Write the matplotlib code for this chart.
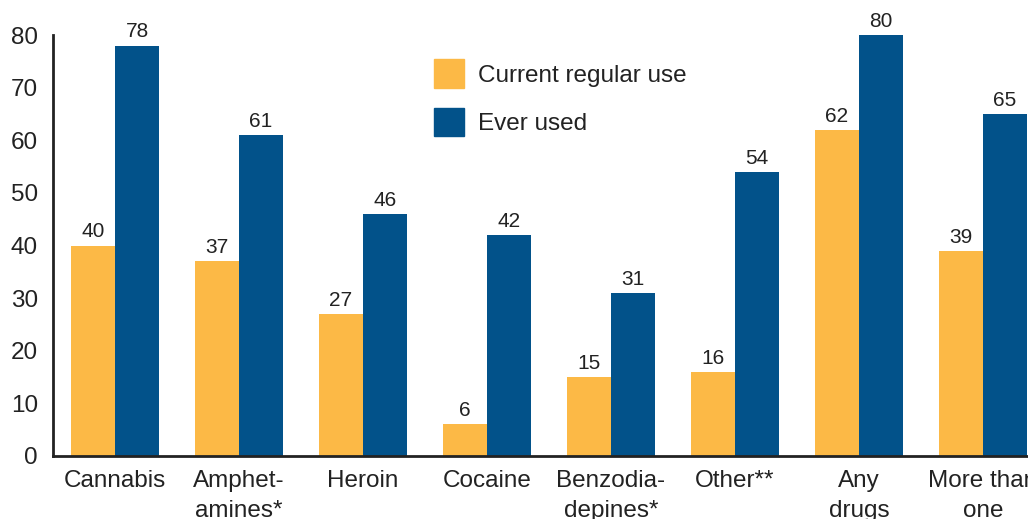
import matplotlib.pyplot as plt
import numpy as np
from matplotlib.patches import Patch

plt.rcParams['font.family'] = ['Liberation Sans', 'DejaVu Sans']

categories = ['Cannabis', 'Amphet-\namines*', 'Heroin', 'Cocaine',
              'Benzodia-\ndepines*', 'Other**', 'Any\ndrugs', 'More than\none']
current_regular = [40, 37, 27, 6, 15, 16, 62, 39]
ever_used = [78, 61, 46, 42, 31, 54, 80, 65]

orange = '#FCB946'
blue = '#02528A'

fig = plt.figure(figsize=(10.28, 5.19), dpi=100)
ax = fig.add_axes([0.0516, 0.1214, 0.9484, 0.811])

x = np.arange(len(categories))
w = 0.355
b1 = ax.bar(x - w / 2, current_regular, w, color=orange)
b2 = ax.bar(x + w / 2, ever_used, w, color=blue)
ax.bar_label(b1, padding=3, fontsize=15, color='#222222')
ax.bar_label(b2, padding=3, fontsize=15, color='#222222')

ax.set_xlim(-0.5, 7.363)
ax.set_ylim(0, 80)
ax.set_yticks(range(0, 81, 10))
ax.set_xticks(x)
ax.set_xticklabels(categories, fontsize=17.5, color='#222222', linespacing=1.45)
ax.tick_params(axis='y', length=0, pad=11, labelsize=17.5, labelcolor='#222222')
ax.tick_params(axis='x', length=0, pad=10)

for s in ['top', 'right']:
    ax.spines[s].set_visible(False)
for s in ['left', 'bottom']:
    ax.spines[s].set_color('#222222')
    ax.spines[s].set_linewidth(2)

handles = [Patch(color=orange), Patch(color=blue)]
ax.legend(handles, ['Current regular use', 'Ever used'], loc='upper left',
          bbox_to_anchor=(0.368, 0.994), frameon=False, fontsize=17.5,
          handlelength=1.24, handleheight=1.4, handletextpad=0.6,
          labelspacing=0.85, labelcolor='#222222')

fig.savefig('out.png', dpi=100)
